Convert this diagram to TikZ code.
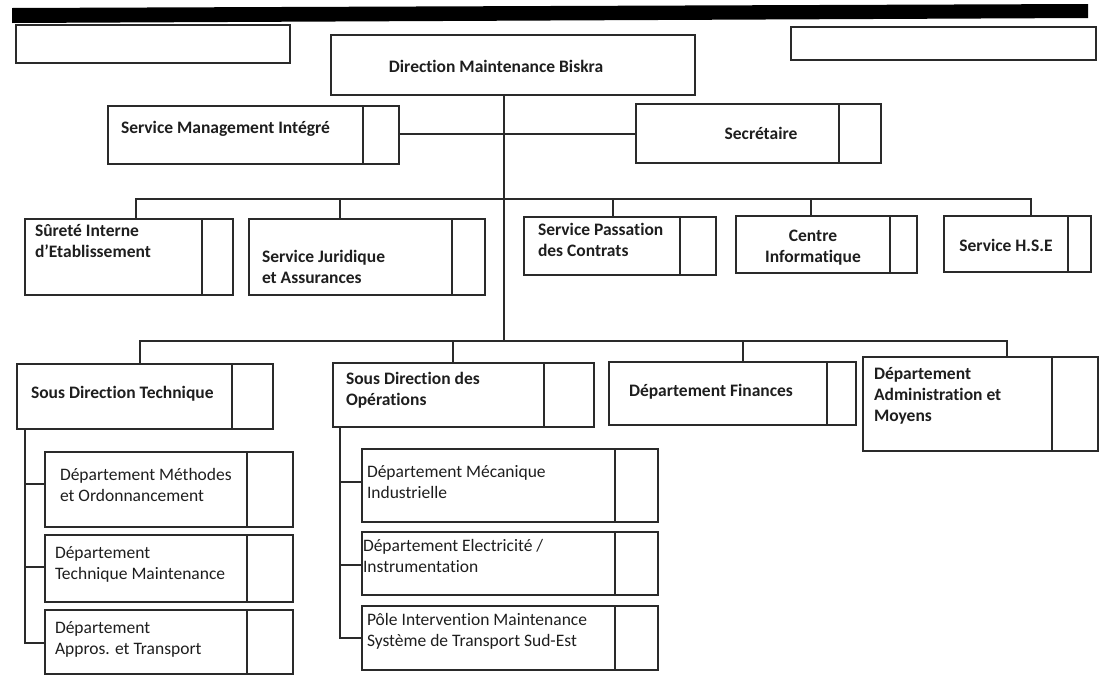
\documentclass[tikz,border=0pt]{standalone}
\usepackage{fontspec}
\setmainfont{Carlito}[Ligatures=NoCommon]
\definecolor{ink}{HTML}{1E1E1E}
\definecolor{rule}{HTML}{2A2A2A}

\tikzset{
  box/.style={draw=rule, line width=1.2pt, inner sep=0pt, outer sep=0pt, anchor=north west},
  lbl/.style={inner sep=0pt, outer sep=0pt, text=ink, align=left, anchor=base west,
              font=\fontsize{17.5}{21}\selectfont},
  blbl/.style={lbl, font=\bfseries\fontsize{17.5}{21}\selectfont},
  clbl/.style={blbl, align=center, anchor=base},
  link/.style={draw=rule, line width=1.2pt},
}

% #1 name, #2 left, #3 top, #4 right, #5 bottom, #6 x of the inner divider
\newcommand{\orgbox}[6]{%
  \node[box, minimum width={(#4-#2)*1pt}, minimum height={(#5-#3)*1pt}] (#1) at (#2,#3) {};
  \draw[link] (#6,#3) -- (#6,#5);
}

% label positions give the baseline of the last line
\begin{document}
\begin{tikzpicture}[x=1pt, y=-1pt]
\useasboundingbox (0,0) rectangle (1104,675);

% heading band
\fill[black] (12,8) -- (1088,4) -- (1088,18) -- (12,23) -- cycle;

% blank header boxes
\node[box, minimum width=274pt, minimum height=38pt] (blankL) at (16,25) {};
\node[box, minimum width=305pt, minimum height=33pt] (blankR) at (791,27) {};

% direction
\node[box, minimum width=364pt, minimum height=60pt] (dir) at (331,35) {};
\node[clbl] (dir-t) at (496,72) {Direction Maintenance Biskra};

% staff units
\orgbox{smi}{108}{106}{399}{164}{363}
\node[blbl] (smi-t) at (121,133) {Service Management Intégré};
\orgbox{sec}{636}{104}{881}{163}{839}
\node[clbl] (sec-t) at (761,139) {Secrétaire};

% services
\orgbox{sur}{25}{219}{233}{295}{202}
\node[blbl] (sur-t) at (35,257) {Sûreté Interne\\d’Etablissement};
\orgbox{jur}{249}{219}{485}{295}{452}
\node[blbl] (jur-t) at (262,283) {Service Juridique\\et Assurances};
\orgbox{pas}{524}{217}{716}{275}{680}
\node[blbl] (pas-t) at (538,256) {Service Passation\\des Contrats};
\orgbox{inf}{736}{216}{917}{273}{890}
\node[clbl] (inf-t) at (813,262) {Centre\\Informatique};
\orgbox{hse}{944}{216}{1091}{272}{1068}
\node[clbl] (hse-t) at (1006,251) {Service H.S.E};

% departments
\orgbox{sdt}{17}{364}{273}{429}{232}
\node[blbl] (sdt-t) at (31,398) {Sous Direction Technique};
\orgbox{sdo}{333}{363}{594}{427}{544}
\node[blbl] (sdo-t) at (346,405) {Sous Direction des\\Opérations};
\orgbox{fin}{609}{362}{856}{425}{827}
\node[blbl] (fin-t) at (629,396) {Département Finances};
\orgbox{adm}{863}{357}{1098}{451}{1052}
\node[blbl] (adm-t) at (874,421) {Département\\Administration et\\Moyens};

% technical sub-departments
\orgbox{met}{45}{452}{293}{527}{247}
\node[lbl] (met-t) at (60,501) {Département Méthodes\\et Ordonnancement};
\orgbox{tma}{45}{535}{293}{602}{247}
\node[lbl] (tma-t) at (55,579) {Département\\Technique Maintenance};
\orgbox{apr}{45}{610}{293}{674}{247}
\node[lbl] (apr-t) at (55,654) {Département\\Appros. et Transport};

% operations sub-departments
\orgbox{mec}{362}{449}{658}{522}{615}
\node[lbl] (mec-t) at (367,498) {Département Mécanique\\Industrielle};
\orgbox{ele}{362}{532}{658}{595}{615}
\node[lbl] (ele-t) at (363,572) {Département Electricité /\\Instrumentation};
\orgbox{pol}{362}{606}{658}{670}{615}
\node[lbl] (pol-t) at (367,646) {Pôle Intervention Maintenance\\Système de Transport Sud-Est};

% bus points
\coordinate (trunk) at (504,341);
\coordinate (staff) at (504,134);
\coordinate (b2L) at (136,199);
\coordinate (b2R) at (1031,199);
\coordinate (d-jur) at (340,199);
\coordinate (d-pas) at (613,199);
\coordinate (d-inf) at (811,199);
\coordinate (b3L) at (140,341);
\coordinate (b3R) at (1007,341);
\coordinate (d-sdo) at (453,341);
\coordinate (d-fin) at (743,341);
\coordinate (rT) at (25,643);
\coordinate (rT1) at (25,484);
\coordinate (rT2) at (25,567);
\coordinate (rO) at (340,638);
\coordinate (rO1) at (340,482);
\coordinate (rO2) at (340,565);

% main trunk and staff link
\draw[link] (dir.south -| trunk) -- (trunk);
\draw[link] (smi.east |- staff) -- (sec.west |- staff);

% services bus
\draw[link] (sur.north -| b2L) -- (b2L) -- (b2R) -- (hse.north -| b2R);
\draw[link] (jur.north -| d-jur) -- (d-jur);
\draw[link] (pas.north -| d-pas) -- (d-pas);
\draw[link] (inf.north -| d-inf) -- (d-inf);

% departments bus
\draw[link] (sdt.north -| b3L) -- (b3L) -- (b3R) -- (adm.north -| b3R);
\draw[link] (sdo.north -| d-sdo) -- (d-sdo);
\draw[link] (fin.north -| d-fin) -- (d-fin);

% technical rail
\draw[link] (sdt.south -| rT) -- (rT) -- (apr.west |- rT);
\draw[link] (rT1) -- (met.west |- rT1);
\draw[link] (rT2) -- (tma.west |- rT2);

% operations rail
\draw[link] (sdo.south -| rO) -- (rO) -- (pol.west |- rO);
\draw[link] (rO1) -- (mec.west |- rO1);
\draw[link] (rO2) -- (ele.west |- rO2);
\end{tikzpicture}
\end{document}
